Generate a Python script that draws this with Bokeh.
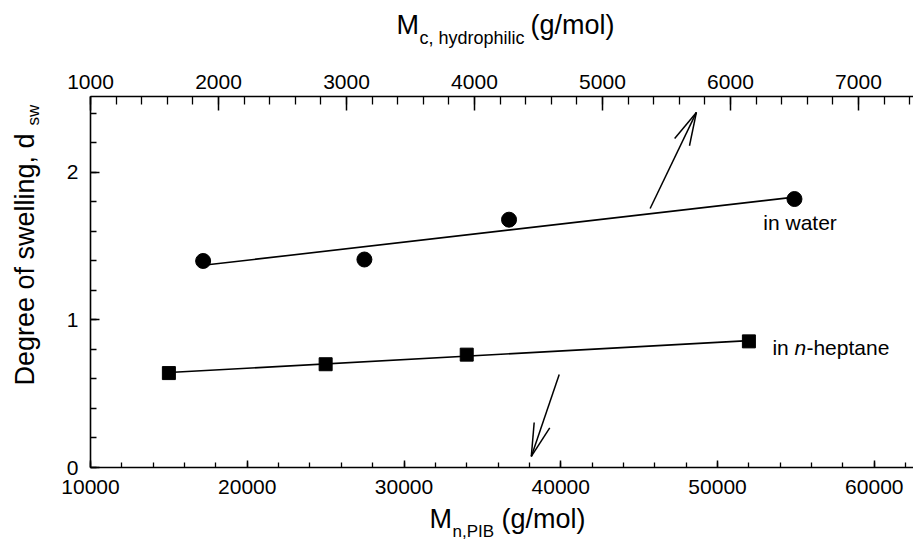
import numpy as np
from bokeh.plotting import figure
from bokeh.models import Range1d, LinearAxis, SingleIntervalTicker, Label
from bokeh.core.properties import value
from bokeh.embed import file_html
from bokeh.resources import INLINE

# ---------------- data ----------------
# water: plotted against the top axis (Mc, hydrophilic)
water_mc = [1880, 3140, 4270, 6500]
water_dsw = [1.40, 1.41, 1.68, 1.82]
# n-heptane: plotted against the bottom axis (Mn, PIB)
heptane_mn = [15000, 25000, 34000, 52000]
heptane_dsw = [0.64, 0.70, 0.765, 0.855]

# axis limits
X_MIN, X_MAX = 10000, 62500       # bottom axis, Mn,PIB
TOP_MIN, TOP_MAX = 1000, 7430     # top axis, Mc,hydrophilic
Y_MIN, Y_MAX = 0.0, 2.515         # degree of swelling

# arrows (bottom-axis data coordinates): start -> end
arrow_up = (45700, 1.756, 48650, 2.407)
arrow_down = (39900, 0.63, 38120, 0.075)

FONT = "Liberation Sans"
W, H = 913, 551
PL, PR, PT, PB = 90, 913, 96, 467   # plot box in canvas pixels

# full-canvas ranges so that the axes (fixed in place) frame the plot box
xpp = (X_MAX - X_MIN) / (PR - PL)
tpp = (TOP_MAX - TOP_MIN) / (PR - PL)
ypp = (Y_MAX - Y_MIN) / (PB - PT)
x_range = Range1d(X_MIN - PL * xpp, X_MAX + (W - PR) * xpp)
top_range = Range1d(TOP_MIN - PL * tpp, TOP_MAX + (W - PR) * tpp)
y_range = Range1d(Y_MIN - (H - PB) * ypp, Y_MAX + PT * ypp)

p = figure(width=W, height=H, x_range=x_range, y_range=y_range,
           output_backend="svg", toolbar_location=None,
           min_border=0, min_border_left=0, min_border_right=0,
           min_border_top=0, min_border_bottom=0)
p.extra_x_ranges = {"top": top_range}
p.outline_line_color = None
p.xgrid.visible = False
p.ygrid.visible = False
p.background_fill_color = "white"
p.border_fill_color = "white"

def style_axis(ax, major_in, minor_in, standoff):
    ax.axis_line_color = "black"
    ax.axis_line_width = 1.6
    ax.major_tick_line_color = "black"
    ax.minor_tick_line_color = "black"
    ax.major_tick_line_width = 1.5
    ax.minor_tick_line_width = 1.3
    ax.major_tick_in = major_in
    ax.major_tick_out = 0
    ax.minor_tick_in = minor_in
    ax.minor_tick_out = 0
    ax.major_label_text_font = FONT
    ax.major_label_text_font_size = "21px"
    ax.major_label_text_color = "black"
    ax.major_label_standoff = standoff
    ax.axis_label = None

xb = p.xaxis[0]
xb.ticker = SingleIntervalTicker(interval=10000, num_minor_ticks=5)
xb.bounds = (X_MIN, X_MAX)
xb.fixed_location = Y_MIN
style_axis(xb, 7, 5, 12)

yl = p.yaxis[0]
yl.ticker = SingleIntervalTicker(interval=1, num_minor_ticks=5)
yl.bounds = (Y_MIN, Y_MAX)
yl.fixed_location = X_MIN
style_axis(yl, 9, 6, 12)

xt = LinearAxis(x_range_name="top",
                ticker=SingleIntervalTicker(interval=1000, num_minor_ticks=5))
xt.bounds = (TOP_MIN, TOP_MAX)
xt.fixed_location = Y_MAX
style_axis(xt, 14, 8, 8)
p.add_layout(xt, "above")

# ---------------- fits ----------------
wc = np.polyfit(water_mc, water_dsw, 1)
wx = np.array([min(water_mc), max(water_mc)])
hc = np.polyfit(heptane_mn, heptane_dsw, 1)
hx = np.array([min(heptane_mn), max(heptane_mn)])

p.line(wx, np.polyval(wc, wx), x_range_name="top", line_color="black", line_width=1.6)
p.line(hx, np.polyval(hc, hx), line_color="black", line_width=1.6)

p.scatter(water_mc, water_dsw, x_range_name="top", marker="circle", size=15,
          fill_color="black", line_color="black")
p.scatter(heptane_mn, heptane_dsw, marker="square", size=13,
          fill_color="black", line_color="black")

# ---------------- arrows with long, narrow open heads ----------------
HEAD_LEN, HEAD_ANG = 34.0, np.radians(14)
sx0, sy0, sx1, sy1 = [], [], [], []
for (x0, y0, x1, y1) in (arrow_up, arrow_down):
    sx0.append(x0); sy0.append(y0); sx1.append(x1); sy1.append(y1)
    # direction in screen pixels
    dx, dy = (x1 - x0) / xpp, (y1 - y0) / ypp
    n = np.hypot(dx, dy)
    ux, uy = dx / n, dy / n
    for a in (HEAD_ANG, -HEAD_ANG):
        rx = ux * np.cos(a) - uy * np.sin(a)
        ry = ux * np.sin(a) + uy * np.cos(a)
        sx0.append(x1); sy0.append(y1)
        sx1.append(x1 - HEAD_LEN * rx * xpp); sy1.append(y1 - HEAD_LEN * ry * ypp)
p.segment(x0=sx0, y0=sy0, x1=sx1, y1=sy1, line_color="black", line_width=1.5)

# ---------------- series labels ----------------
def txt(x, y, s, xoff=0, style="normal", size="21px"):
    p.text(x=[x], y=[y], text=[s], x_offset=xoff,
           text_font=value(FONT), text_font_size=value(size),
           text_font_style=style, text_color="black",
           text_align="left", text_baseline="middle")

txt(52920, 1.661, "in water")
txt(53500, 0.814, "in ")
txt(53500, 0.814, "n", xoff=22, style="italic")
txt(53500, 0.814, "-heptane", xoff=34)

# ---------------- axis titles (screen units; frame covers whole canvas) ----------------
def lab(cx, cy, s, size, angle=0.0):
    p.add_layout(Label(x=cx, y=H - cy, x_units="screen", y_units="screen",
                       text=s, text_font=FONT, text_font_size=size,
                       text_color="black", text_align="left",
                       text_baseline="alphabetic", angle=angle))

# bottom title
lab(429, 518, "M", "27px")
lab(452, 531, "n,PIB", "17px")
lab(501, 518, "(g/mol)", "27px")
# top title
lab(396, 24, "M", "27px")
lab(419, 37, "c, hydrophilic", "18px")
lab(530, 24, "(g/mol)", "27px")
# left title (rotated)
lab(24, 385, "Degree of swelling, d", "27px", angle=np.pi / 2)
lab(33, 125, "sw", "17px", angle=np.pi / 2)

open("out.html", "w").write(file_html(p, INLINE))
